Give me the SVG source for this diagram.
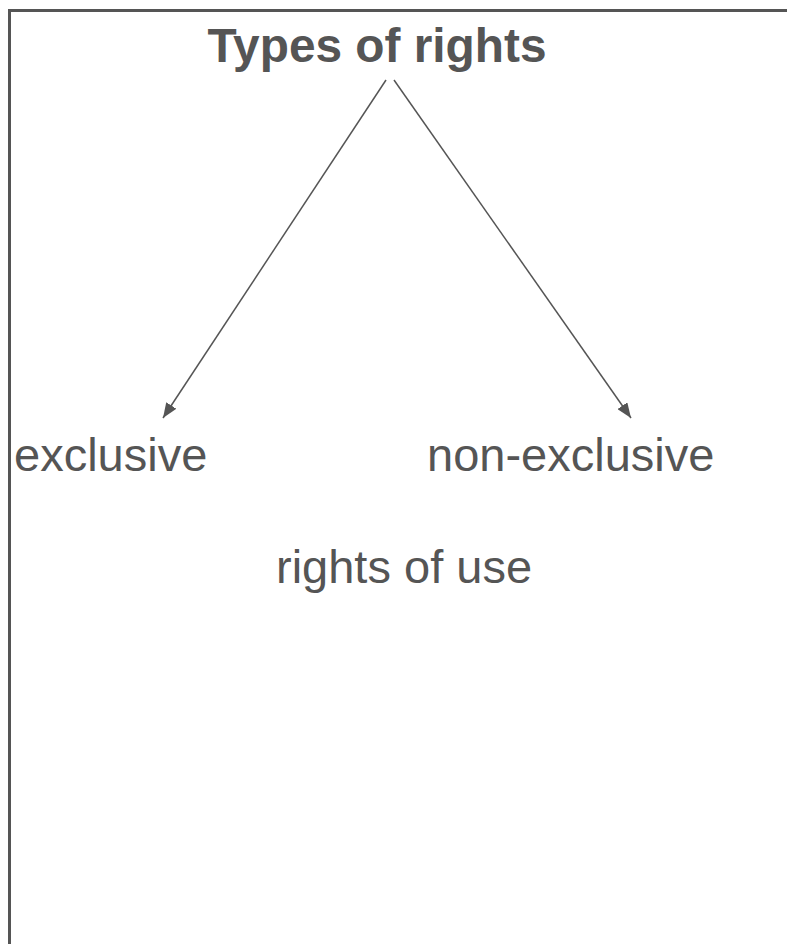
<svg xmlns="http://www.w3.org/2000/svg" width="787" height="944" viewBox="0 0 787 944">
<style>
.lbl{font-family:"Liberation Sans",Arial,sans-serif;fill:#555555;font-size:47px}
.title{font-weight:bold;font-size:47.8px}
.conn{stroke:#555555;stroke-width:1.5;fill:none}
</style>
<defs>
<marker id="ah" markerWidth="16" markerHeight="12" refX="15" refY="6" orient="auto" markerUnits="userSpaceOnUse">
<path d="M0,0 L15,6 L0,12 Z" fill="#555555"/>
</marker>
</defs>
<rect x="0" y="0" width="787" height="944" fill="#ffffff"/>
<path d="M9.5,950 L9.5,10.5 L800,10.5" stroke="#555555" stroke-width="3" fill="none"/>
<g id="connectors">
<line class="conn" x1="386" y1="80" x2="163" y2="418" marker-end="url(#ah)"/>
<line class="conn" x1="394" y1="80" x2="631" y2="418" marker-end="url(#ah)"/>
</g>
<g id="title"><text class="lbl title" x="377" y="62" text-anchor="middle">Types of rights</text></g>
<g id="exclusive"><text class="lbl" x="14" y="471">exclusive</text></g>
<g id="non-exclusive"><text class="lbl" x="427" y="471">non-exclusive</text></g>
<g id="rights-of-use"><text class="lbl" x="276" y="583">rights of use</text></g>
</svg>
